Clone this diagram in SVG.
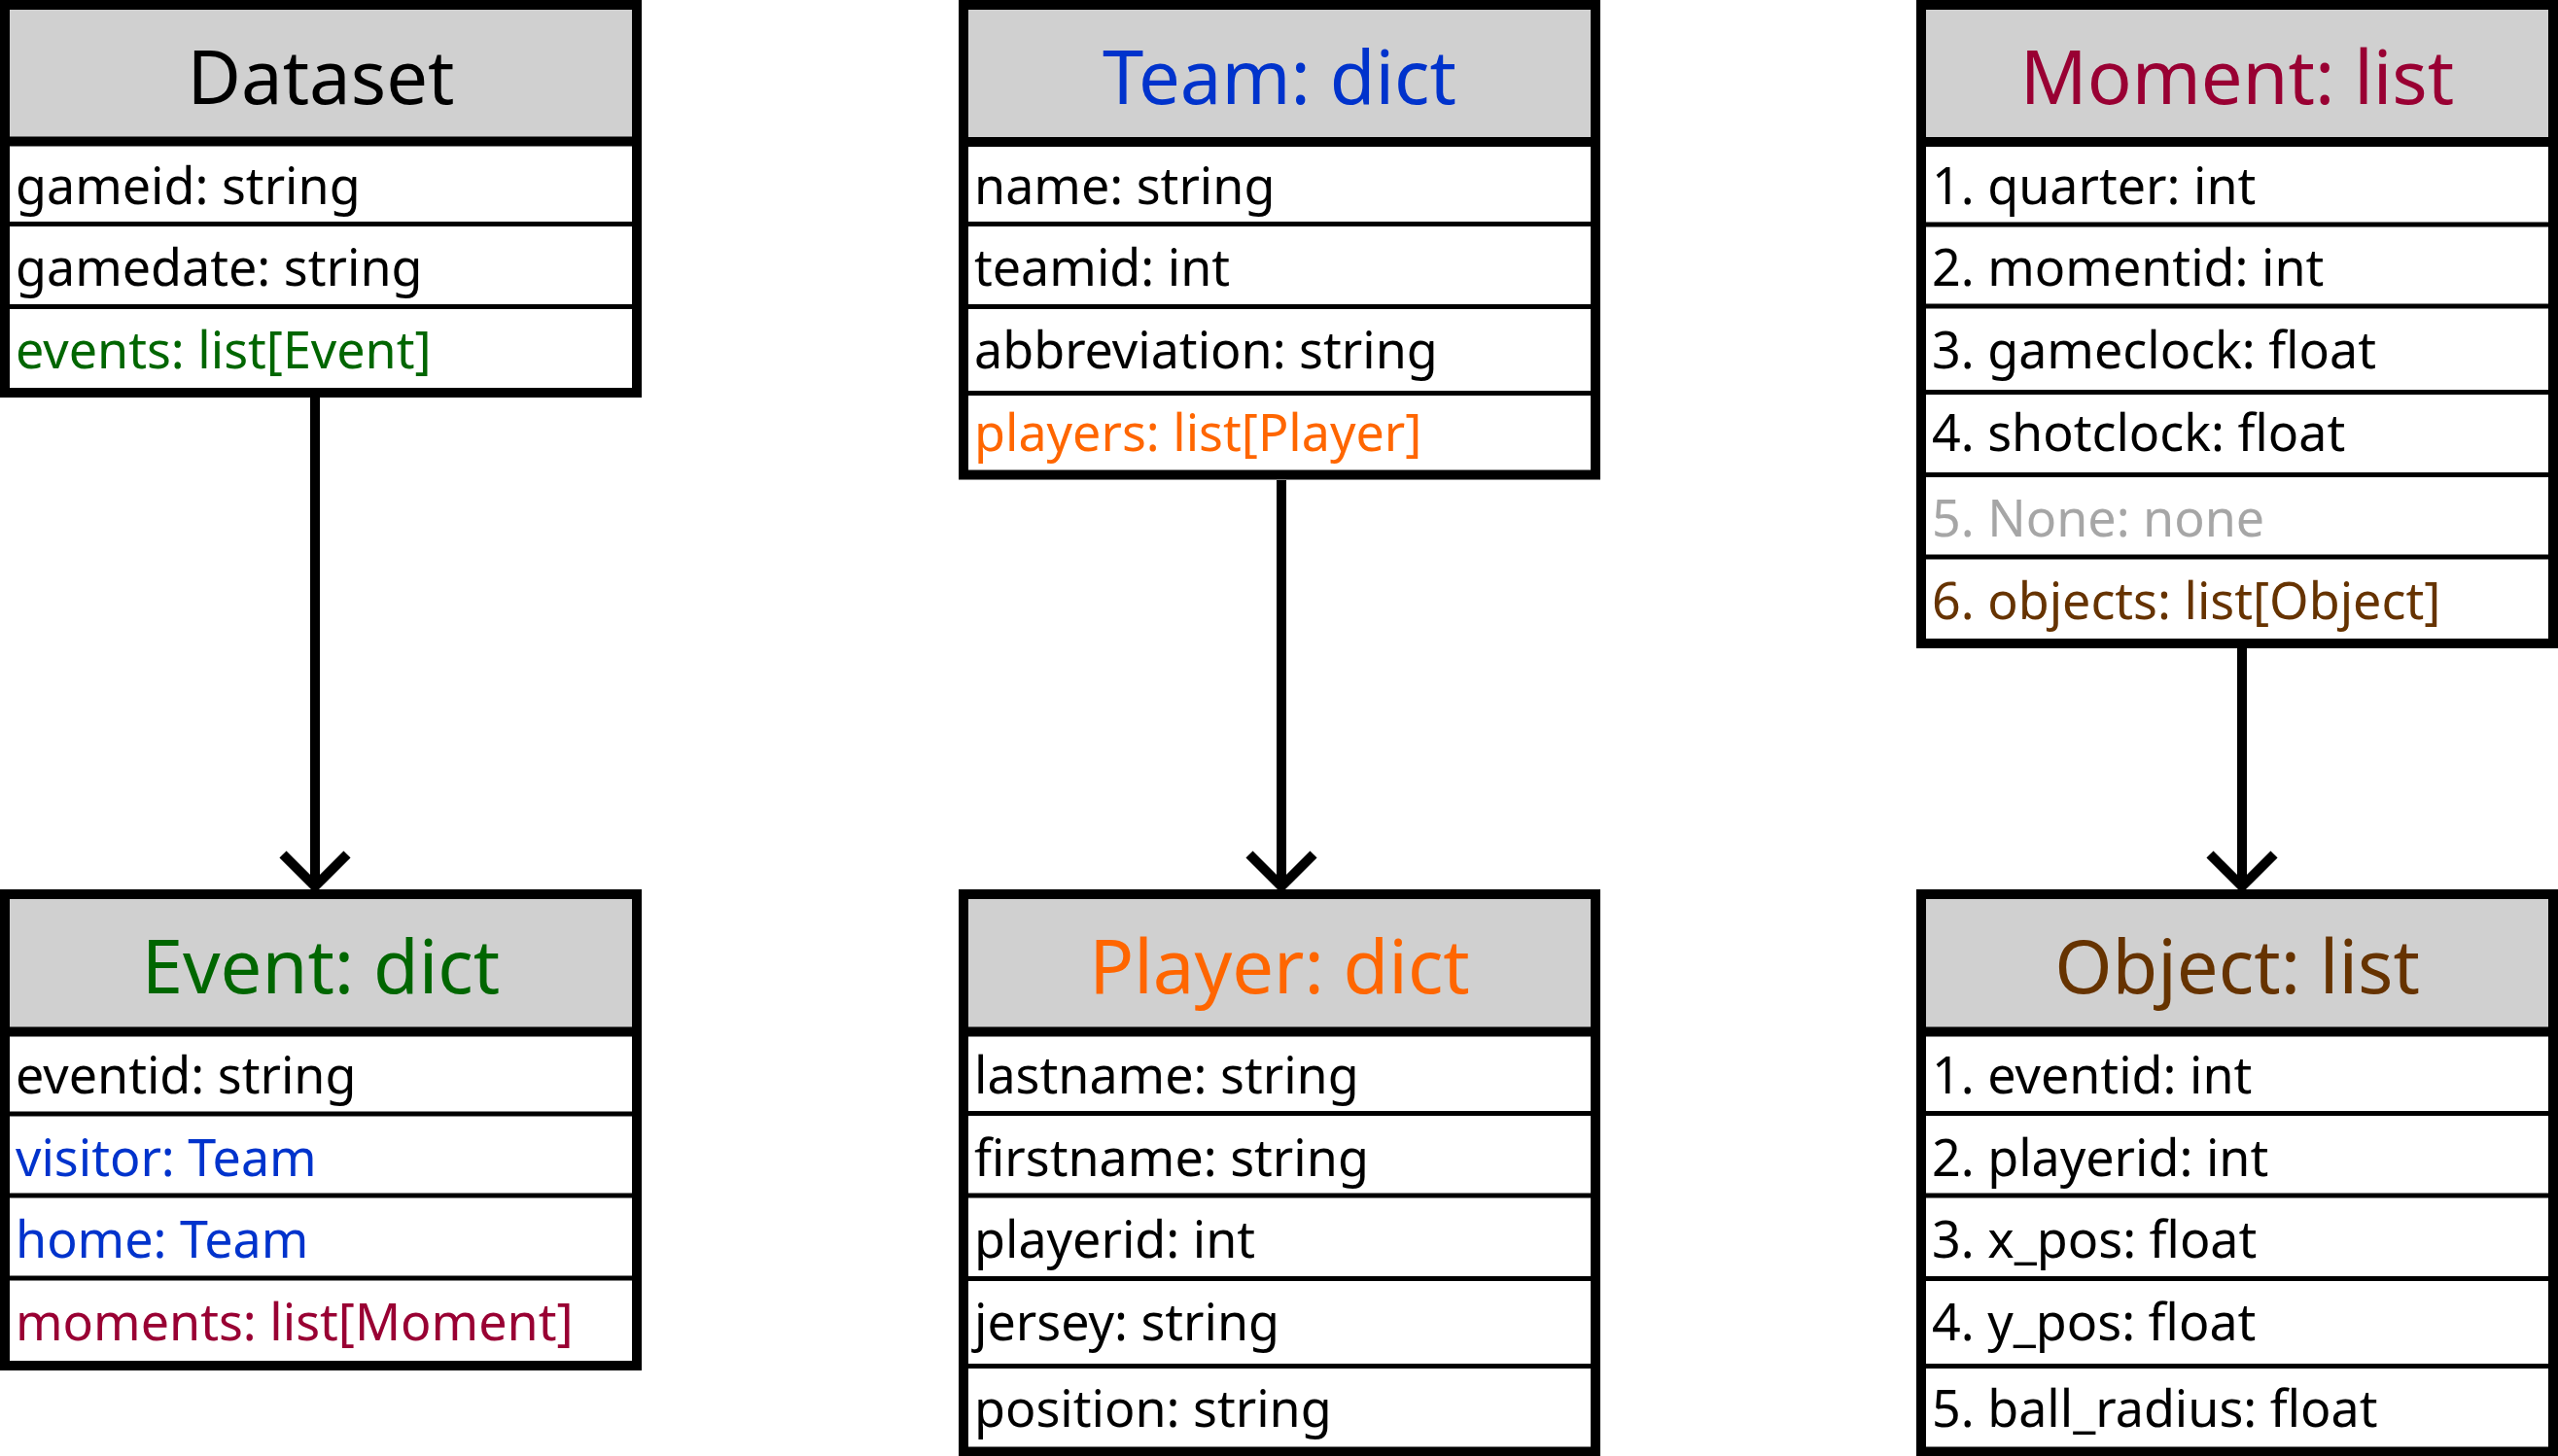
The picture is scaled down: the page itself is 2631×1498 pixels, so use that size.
<svg xmlns="http://www.w3.org/2000/svg" width="2631" height="1498" viewBox="0 0 2631 1498">
<style>
.box{fill:#ffffff;stroke:#000000;stroke-width:10}
.hdr{fill:#d0d0d0;stroke:none}
.hl{stroke:#000000;stroke-width:10}
.rl{stroke:#000000;stroke-width:5}
.t{font-family:"Noto Sans","Open Sans",sans-serif;font-size:52px;fill:#000000}
.h{font-family:"Noto Sans","Open Sans",sans-serif;font-size:76px;text-anchor:middle;fill:#000000}
.green{fill:#006600}
.blue{fill:#0033cc}
.orange{fill:#ff6600}
.maroon{fill:#990033}
.brown{fill:#663300}
.grey{fill:#a6a6a6}
.conn{stroke:#000000;stroke-width:10;fill:none}
</style>
<rect width="2631" height="1498" fill="#ffffff"/>

<g id="connectors">
<line class="conn" x1="324" y1="409" x2="324" y2="910"/>
<polyline class="conn" points="291,879 324,912 357,879"/>
<line class="conn" x1="1318" y1="494" x2="1318" y2="910"/>
<polyline class="conn" points="1285,879 1318,912 1351,879"/>
<line class="conn" x1="2306" y1="667" x2="2306" y2="910"/>
<polyline class="conn" points="2273,879 2306,912 2339,879"/>
</g>

<g id="dataset">
<rect class="box" x="5" y="5" width="650" height="399"/>
<rect class="hdr" x="10" y="10" width="640" height="135"/>
<line class="hl" x1="5" y1="145.5" x2="655" y2="145.5"/>
<line class="rl" x1="5" y1="230.5" x2="655" y2="230.5"/>
<line class="rl" x1="5" y1="315.5" x2="655" y2="315.5"/>
<text class="h" x="330" y="107">Dataset</text>
<text class="t" x="16" y="210">gameid: string</text>
<text class="t" x="16" y="294">gamedate: string</text>
<text class="t green" x="16" y="379">events: list[Event]</text>
</g>

<g id="event">
<rect class="box" x="5" y="920" width="650" height="485"/>
<rect class="hdr" x="10" y="925" width="640" height="136"/>
<line class="hl" x1="5" y1="1061.5" x2="655" y2="1061.5"/>
<line class="rl" x1="5" y1="1146" x2="655" y2="1146"/>
<line class="rl" x1="5" y1="1230" x2="655" y2="1230"/>
<line class="rl" x1="5" y1="1315" x2="655" y2="1315"/>
<text class="h green" x="330" y="1022">Event: dict</text>
<text class="t" x="16" y="1125">eventid: string</text>
<text class="t blue" x="16" y="1210">visitor: Team</text>
<text class="t blue" x="16" y="1294">home: Team</text>
<text class="t maroon" x="16" y="1379">moments: list[Moment]</text>
</g>

<g id="team">
<rect class="box" x="991" y="5" width="650" height="483.5"/>
<rect class="hdr" x="996" y="10" width="640" height="136"/>
<line class="hl" x1="991" y1="146" x2="1641" y2="146"/>
<line class="rl" x1="991" y1="230.5" x2="1641" y2="230.5"/>
<line class="rl" x1="991" y1="315.5" x2="1641" y2="315.5"/>
<line class="rl" x1="991" y1="404.5" x2="1641" y2="404.5"/>
<text class="h blue" x="1316" y="107">Team: dict</text>
<text class="t" x="1002" y="210">name: string</text>
<text class="t" x="1002" y="294">teamid: int</text>
<text class="t" x="1002" y="379">abbreviation: string</text>
<text class="t orange" x="1002" y="464">players: list[Player]</text>
</g>

<g id="player">
<rect class="box" x="991" y="920" width="650" height="573.5"/>
<rect class="hdr" x="996" y="925" width="640" height="136"/>
<line class="hl" x1="991" y1="1061.5" x2="1641" y2="1061.5"/>
<line class="rl" x1="991" y1="1145.5" x2="1641" y2="1145.5"/>
<line class="rl" x1="991" y1="1230" x2="1641" y2="1230"/>
<line class="rl" x1="991" y1="1315.5" x2="1641" y2="1315.5"/>
<line class="rl" x1="991" y1="1405.5" x2="1641" y2="1405.5"/>
<text class="h orange" x="1316" y="1022">Player: dict</text>
<text class="t" x="1002" y="1125">lastname: string</text>
<text class="t" x="1002" y="1210">firstname: string</text>
<text class="t" x="1002" y="1294">playerid: int</text>
<text class="t" x="1002" y="1379">jersey: string</text>
<text class="t" x="1002" y="1468">position: string</text>
</g>

<g id="moment">
<rect class="box" x="1976" y="5" width="650" height="657"/>
<rect class="hdr" x="1981" y="10" width="640" height="136"/>
<line class="hl" x1="1976" y1="146" x2="2626" y2="146"/>
<line class="rl" x1="1976" y1="231" x2="2626" y2="231"/>
<line class="rl" x1="1976" y1="315" x2="2626" y2="315"/>
<line class="rl" x1="1976" y1="403.5" x2="2626" y2="403.5"/>
<line class="rl" x1="1976" y1="488.5" x2="2626" y2="488.5"/>
<line class="rl" x1="1976" y1="573" x2="2626" y2="573"/>
<text class="h maroon" x="2301" y="107">Moment: list</text>
<text class="t" x="1987" y="210">1. quarter: int</text>
<text class="t" x="1987" y="294">2. momentid: int</text>
<text class="t" x="1987" y="379">3. gameclock: float</text>
<text class="t" x="1987" y="464">4. shotclock: float</text>
<text class="t grey" x="1987" y="552">5. None: none</text>
<text class="t brown" x="1987" y="637">6. objects: list[Object]</text>
</g>

<g id="object">
<rect class="box" x="1976" y="920" width="650" height="573.5"/>
<rect class="hdr" x="1981" y="925" width="640" height="136"/>
<line class="hl" x1="1976" y1="1061.5" x2="2626" y2="1061.5"/>
<line class="rl" x1="1976" y1="1145.5" x2="2626" y2="1145.5"/>
<line class="rl" x1="1976" y1="1230" x2="2626" y2="1230"/>
<line class="rl" x1="1976" y1="1315.5" x2="2626" y2="1315.5"/>
<line class="rl" x1="1976" y1="1405.5" x2="2626" y2="1405.5"/>
<text class="h brown" x="2301" y="1022">Object: list</text>
<text class="t" x="1987" y="1125">1. eventid: int</text>
<text class="t" x="1987" y="1210">2. playerid: int</text>
<text class="t" x="1987" y="1294">3. x_pos: float</text>
<text class="t" x="1987" y="1379">4. y_pos: float</text>
<text class="t" x="1987" y="1468">5. ball_radius: float</text>
</g>
</svg>
